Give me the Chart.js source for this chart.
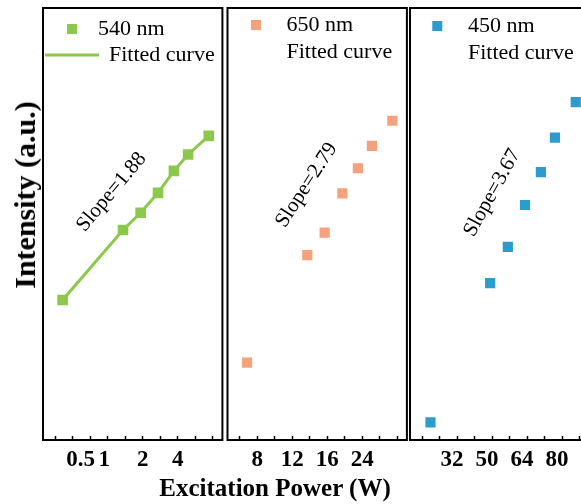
<!DOCTYPE html>
<html>
<head>
<meta charset="utf-8">
<script src="https://cdn.jsdelivr.net/npm/chart.js@4.4.1/dist/chart.umd.min.js"></script>
<style>
  html, body { margin: 0; padding: 0; background: #fff; overflow: hidden; }
  body { width: 581px; height: 504px; position: relative; font-family: "Liberation Serif", "Times New Roman", serif; }
  canvas { position: absolute; top: 0; }
  #ytitle { position: absolute; left: 25px; top: 195px; transform: translate(-50%, -50%) rotate(-90deg);
            font-weight: bold; font-size: 30px; line-height: 30px; white-space: nowrap; }
  #xtitle { position: absolute; left: 275px; top: 475px; transform: translateX(-50%);
            font-weight: bold; font-size: 25px; line-height: 25px; white-space: nowrap; }
</style>
</head>
<body>
<canvas id="p1" width="200" height="504" style="left:33px"></canvas>
<canvas id="p2" width="200" height="504" style="left:217px"></canvas>
<canvas id="p3" width="200" height="504" style="left:400px"></canvas>
<div id="ytitle">Intensity (a.u.)</div>
<div id="xtitle">Excitation Power (W)</div>
<script>
// axis positions are in "tick steps" (10 evenly spaced ticks per panel)
const tickLabels = [['0.5', '1', '2', '4'], ['8', '12', '16', '24'], ['32', '50', '64', '80']];
const tickLabelPos = [[1.45, 2.8, 5, 7], [1, 3, 5, 7], [1.7, 3.7, 5.7, 7.7]];

// 540 nm (green)
const x540 = [0.42, 3.87, 4.88, 5.87, 6.78, 7.59, 8.77];
const y540 = [3.24, 4.86, 5.26, 5.72, 6.23, 6.61, 7.04];
// 650 nm (orange)
const x650 = [0.42, 3.86, 4.85, 5.86, 6.75, 7.55, 8.72];
const y650 = [1.79, 4.28, 4.80, 5.71, 6.29, 6.81, 7.39];
// 450 nm (blue)
const x450 = [0.47, 3.88, 4.89, 5.87, 6.78, 7.58, 8.77];
const y450 = [0.41, 3.63, 4.47, 5.44, 6.20, 7.00, 7.82];

const legendLabels = [['540 nm', 'Fitted curve'], ['650 nm', 'Fitted curve'], ['450 nm', 'Fitted curve']];
const slopeText = ['Slope=1.88', 'Slope=2.79', 'Slope=3.67'];
const slopeX = [3.22, 3.82, 4.0];
const slopeY = [5.74, 5.90, 5.72];

const colors = ['#8CC84B', '#F5A27C', '#2C9BCD'];

function pts(xs, ys) {
  return xs.map((x, i) => ({ x: x, y: ys[i] }));
}

function tickValues(p) {
  const vals = [0, 1, 2, 3, 4, 5, 6, 7, 8, 9];
  tickLabelPos[p].forEach(v => { if (!vals.includes(v)) vals.push(v); });
  return vals.sort((a, b) => a - b).map(v => ({ value: v }));
}

// frame round the plot area
const framePlugin = {
  id: 'frame',
  afterDraw(chart) {
    const { ctx, chartArea: a } = chart;
    ctx.save();
    ctx.strokeStyle = '#000';
    ctx.lineWidth = 2;
    ctx.strokeRect(a.left, a.top, a.right - a.left, a.bottom - a.top);
    ctx.restore();
  }
};

// legend drawn inside the frame, like the original
const insideLegend = {
  id: 'insideLegend',
  afterDraw(chart, args, o) {
    const { ctx, chartArea: a } = chart;
    ctx.save();
    ctx.font = '22px "Liberation Serif"';
    ctx.textBaseline = 'middle';
    o.labels.forEach((txt, i) => {
      const y = a.top + o.rows[i];
      if (i === 0) {
        ctx.fillStyle = o.color;
        ctx.fillRect(a.left + o.markX - 5, y - 5, 10, 10);
      } else if (o.line) {
        ctx.strokeStyle = o.color;
        ctx.lineWidth = 3;
        ctx.beginPath();
        ctx.moveTo(a.left + o.line[0], y);
        ctx.lineTo(a.left + o.line[1], y);
        ctx.stroke();
      }
      ctx.fillStyle = '#000';
      ctx.fillText(txt, a.left + o.textX[i], y);
    });
    ctx.restore();
  }
};

// rotated slope note, placed through the scales
const slopeNote = {
  id: 'slopeNote',
  afterDatasetsDraw(chart, args, o) {
    const { ctx } = chart;
    const px = chart.scales.x.getPixelForValue(o.x);
    const py = chart.scales.y.getPixelForValue(o.y);
    ctx.save();
    ctx.translate(px, py);
    ctx.rotate(o.angle * Math.PI / 180);
    ctx.font = '21px "Liberation Serif"';
    ctx.fillStyle = '#000';
    ctx.textAlign = 'center';
    ctx.textBaseline = 'middle';
    ctx.fillText(o.text, 0, 0);
    ctx.restore();
  }
};

function makePanel(id, p, datasets, padLeft, legendOpts, angle) {
  new Chart(document.getElementById(id), {
    type: 'scatter',
    data: { datasets: datasets },
    options: {
      responsive: false,
      animation: false,
      layout: { padding: { left: padLeft, right: 200 - padLeft - 179.4, top: 8, bottom: 24 } },
      scales: {
        x: {
          type: 'linear', min: -0.7, max: 9.55,
          afterBuildTicks: s => { s.ticks = tickValues(p); },
          afterFit: s => { s.height = 40; },
          border: { display: false },
          grid: {
            drawOnChartArea: false, tickLength: -4, tickWidth: 1.5,
            tickColor: c => (c.tick && Number.isInteger(c.tick.value)) ? '#000' : 'rgba(0,0,0,0)'
          },
          ticks: {
            autoSkip: false, maxRotation: 0, minRotation: 0, padding: 10, color: '#000',
            font: { family: 'Liberation Serif', weight: 'bold', size: 23 },
            callback: v => {
              const i = tickLabelPos[p].indexOf(v);
              return i < 0 ? '' : tickLabels[p][i];
            }
          }
        },
        y: { type: 'linear', min: 0, max: 10, display: false }
      },
      plugins: {
        legend: { display: false },
        tooltip: { enabled: false },
        insideLegend: Object.assign({ labels: legendLabels[p], color: colors[p] }, legendOpts),
        slopeNote: { text: slopeText[p], x: slopeX[p], y: slopeY[p], angle: angle }
      }
    },
    plugins: [framePlugin, insideLegend, slopeNote]
  });
}

makePanel('p1', 0, [
  { label: '540 nm', data: pts(x540, y540), pointStyle: 'rect', pointRadius: 7.5,
    backgroundColor: colors[0], borderWidth: 0, order: 1 },
  { label: 'Fitted curve', data: pts(x540, y540), showLine: true, pointRadius: 0,
    borderColor: colors[0], borderWidth: 3, order: 2 }
], 10, { markX: 29, textX: [55, 66], rows: [21, 47], line: [2, 56] }, -50);

makePanel('p2', 1, [
  { label: '650 nm', data: pts(x650, y650), pointStyle: 'rect', pointRadius: 7.2,
    backgroundColor: colors[1], borderWidth: 0 }
], 10.5, { markX: 28.5, textX: [59, 59], rows: [17, 44] }, -57);

makePanel('p3', 2, [
  { label: '450 nm', data: pts(x450, y450), pointStyle: 'rect', pointRadius: 7.2,
    backgroundColor: colors[2], borderWidth: 0 }
], 10, { markX: 27.3, textX: [58, 58], rows: [18, 45] }, -61);
</script>
</body>
</html>
